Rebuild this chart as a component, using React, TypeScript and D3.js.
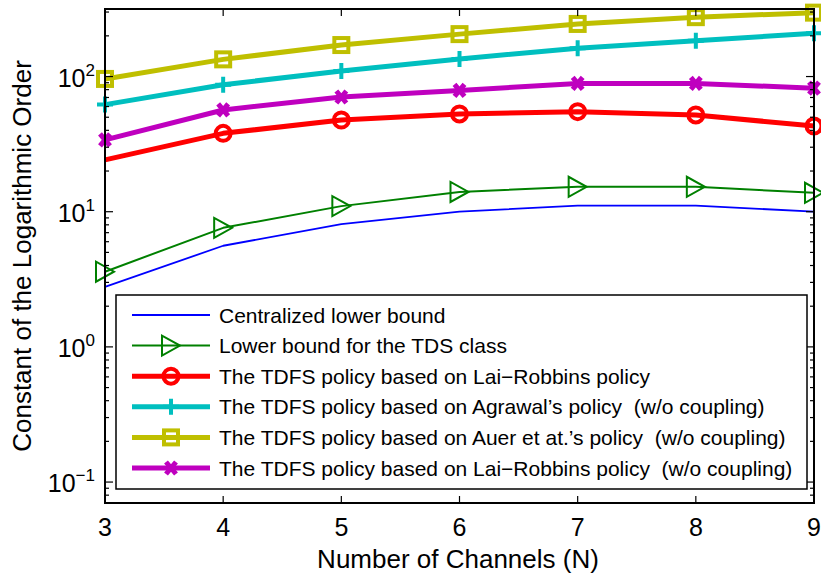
import React from "react";
import * as d3 from "d3";

const channels = [3, 4, 5, 6, 7, 8, 9];
const centralized = [2.78, 5.6, 8.1, 10.0, 11.1, 11.1, 10.0];
const tdsBound = [3.6, 7.6, 11.0, 14.0, 15.3, 15.3, 13.8];
const tdfsLaiRobbins = [24.2, 38, 47.7, 52.9, 55, 52, 43];
const tdfsAgrawal = [62, 87, 110, 135, 162, 184, 209];
const tdfsAuer = [96, 134, 171, 206, 245, 275, 297];
const tdfsLaiRobbinsNoCoupling = [34, 56.6, 70.6, 79, 89, 89, 82];

const legendLabels = [
  "Centralized lower bound",
  "Lower bound for the TDS class",
  "The TDFS policy based on Lai\u2212Robbins policy",
  "The TDFS policy based on Agrawal\u2019s policy  (w/o coupling)",
  "The TDFS policy based on Auer et at.\u2019s policy  (w/o coupling)",
  "The TDFS policy based on Lai\u2212Robbins policy  (w/o coupling)",
];
const xTicks = [3, 4, 5, 6, 7, 8, 9];
const yDecades = [-1, 0, 1, 2];

type Series = { values: number[]; color: string; width: number; marker: string; markerFrom: number };
const series: Series[] = [
  { values: centralized, color: "#0000ff", width: 1.8, marker: "none", markerFrom: 0 },
  { values: tdsBound, color: "#008000", width: 2, marker: "tri", markerFrom: 0 },
  { values: tdfsLaiRobbins, color: "#ff0000", width: 5, marker: "circle", markerFrom: 1 },
  { values: tdfsAgrawal, color: "#00bfbf", width: 5, marker: "plus", markerFrom: 0 },
  { values: tdfsAuer, color: "#bfbf00", width: 5, marker: "square", markerFrom: 0 },
  { values: tdfsLaiRobbinsNoCoupling, color: "#bf00bf", width: 5, marker: "x", markerFrom: 0 },
];

const FONT = "'Liberation Sans', Arial, Helvetica, sans-serif";

function Marker({ type, x, y, color }: { type: string; x: number; y: number; color: string }) {
  if (type === "tri") {
    return (
      <path
        d={`M${x - 9},${y - 10}L${x - 9},${y + 10}L${x + 9},${y}Z`}
        fill="none"
        stroke={color}
        strokeWidth={2}
      />
    );
  }
  if (type === "circle") {
    return <circle cx={x} cy={y} r={7.5} fill="none" stroke={color} strokeWidth={4} />;
  }
  if (type === "plus") {
    return (
      <path
        d={`M${x - 8},${y}L${x + 8},${y}M${x},${y - 8}L${x},${y + 8}`}
        stroke={color}
        strokeWidth={4}
      />
    );
  }
  if (type === "square") {
    return (
      <rect x={x - 7} y={y - 7} width={14} height={14} fill="none" stroke={color} strokeWidth={4} />
    );
  }
  if (type === "x") {
    return (
      <path
        d={`M${x - 5},${y - 6}L${x + 5},${y + 6}M${x - 5},${y + 6}L${x + 5},${y - 6}`}
        stroke={color}
        strokeWidth={5}
      />
    );
  }
  return null;
}

export default function App() {
  const left = 105, right = 814, top = 9, bottom = 503;
  const x = d3.scaleLinear().domain([3, 9]).range([left, right]);
  const y = d3.scaleLog().domain([0.07, 316]).range([bottom, top]);
  const line = d3
    .line<number>()
    .x((_, i) => x(channels[i]))
    .y((d) => y(d));

  const minor: number[] = [];
  for (let e = -2; e <= 2; e++) {
    for (let m = 2; m <= 9; m++) {
      const v = m * Math.pow(10, e);
      if (v >= 0.07 && v <= 316) minor.push(v);
    }
  }

  const legX = 116, legY = 295, legW = 691, legH = 194;
  const rowY = (i: number) => 315 + i * 30.6;

  return (
    <svg
      width={821}
      height={576}
      style={{ position: "absolute", left: 0, top: 0, background: "#fff" }}
      fontFamily={FONT}
    >
      <rect x={0} y={0} width={821} height={576} fill="#fff" />
      {series.map((s, si) => (
        <g key={si}>
          <path d={line(s.values) || ""} fill="none" stroke={s.color} strokeWidth={s.width} strokeLinejoin="round" />
          {s.values.map((v, i) =>
            i >= s.markerFrom ? (
              <Marker key={i} type={s.marker} x={x(channels[i])} y={y(v)} color={s.color} />
            ) : null
          )}
        </g>
      ))}
      <rect x={left} y={top} width={right - left} height={bottom - top} fill="none" stroke="#000" strokeWidth={2} />
      {xTicks.map((t) => (
        <g key={t}>
          <line x1={x(t)} x2={x(t)} y1={bottom} y2={bottom - 7} stroke="#000" strokeWidth={1.2} />
          <line x1={x(t)} x2={x(t)} y1={top} y2={top + 7} stroke="#000" strokeWidth={1.2} />
          <text x={x(t)} y={536} textAnchor="middle" fontSize={25} fill="#000">
            {t}
          </text>
        </g>
      ))}
      {yDecades.map((e) => {
        const yy = y(Math.pow(10, e));
        return (
          <g key={e}>
            <line x1={left} x2={left + 8} y1={yy} y2={yy} stroke="#000" strokeWidth={1.2} />
            <line x1={right} x2={right - 8} y1={yy} y2={yy} stroke="#000" strokeWidth={1.2} />
            <text x={95} y={yy + 10} textAnchor="end" fontSize={25} fill="#000">
              10
              <tspan dy={-11} fontSize={17}>
                {e < 0 ? "\u2212" + Math.abs(e) : String(e)}
              </tspan>
            </text>
          </g>
        );
      })}
      {minor.map((v, i) => (
        <g key={i}>
          <line x1={left} x2={left + 4} y1={y(v)} y2={y(v)} stroke="#000" strokeWidth={1.2} />
          <line x1={right} x2={right - 4} y1={y(v)} y2={y(v)} stroke="#000" strokeWidth={1.2} />
        </g>
      ))}
      <text x={458} y={568} textAnchor="middle" fontSize={26} fill="#000">
        Number of Channels (N)
      </text>
      <text
        transform={`translate(31,${(top + bottom) / 2}) rotate(-90)`}
        textAnchor="middle"
        fontSize={26}
        fill="#000"
      >
        Constant of the Logarithmic Order
      </text>
      <rect x={legX} y={legY} width={legW} height={legH} fill="#fff" stroke="#000" strokeWidth={1.5} />
      {series.map((s, i) => (
        <g key={i}>
          <line x1={132} x2={210} y1={rowY(i)} y2={rowY(i)} stroke={s.color} strokeWidth={s.width} />
          <Marker type={s.marker} x={171} y={rowY(i)} color={s.color} />
          <text
            x={219}
            y={rowY(i) + 7.5}
            fontSize={21}
            fill="#000"
            style={{ whiteSpace: "pre" }}
            xmlSpace="preserve"
          >
            {legendLabels[i]}
          </text>
        </g>
      ))}
    </svg>
  );
}
